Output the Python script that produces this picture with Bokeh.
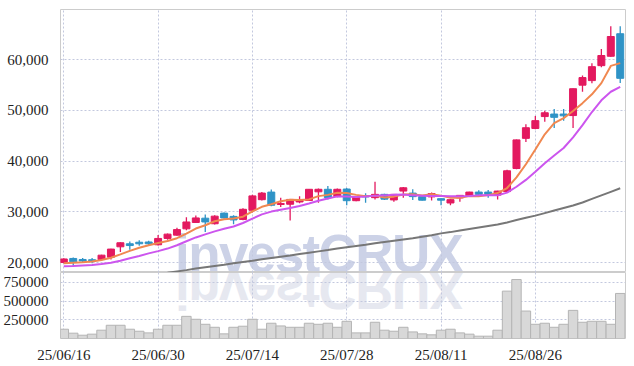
from bokeh.plotting import figure
from bokeh.layouts import column
from bokeh.models import ColumnDataSource, FixedTicker, NumeralTickFormatter, Range1d, Div, Grid
from bokeh.embed import file_html
from bokeh.resources import INLINE

# ---------------- data ----------------
dates = ["25/06/16", "25/06/17", "25/06/18", "25/06/19", "25/06/20",
         "25/06/23", "25/06/24", "25/06/25", "25/06/26", "25/06/27",
         "25/06/30", "25/07/01", "25/07/02", "25/07/03", "25/07/04",
         "25/07/07", "25/07/08", "25/07/09", "25/07/10", "25/07/11",
         "25/07/14", "25/07/15", "25/07/16", "25/07/17", "25/07/18",
         "25/07/21", "25/07/22", "25/07/23", "25/07/24", "25/07/25",
         "25/07/28", "25/07/29", "25/07/30", "25/07/31", "25/08/01",
         "25/08/04", "25/08/05", "25/08/06", "25/08/07", "25/08/08",
         "25/08/11", "25/08/12", "25/08/13", "25/08/14", "25/08/18",
         "25/08/19", "25/08/20", "25/08/21", "25/08/22", "25/08/25",
         "25/08/26", "25/08/27", "25/08/28", "25/08/29", "25/09/01",
         "25/09/02", "25/09/03", "25/09/04", "25/09/05", "25/09/08"]

opens = [20000, 20800, 20600, 20550, 20600, 21050, 23100, 23700, 24000, 24050,
         23500, 24750, 25400, 26650, 27900, 28750, 27650, 29750, 29100, 28500,
         30300, 32400, 33900, 31450, 31500, 31950, 32250, 33950, 34450, 33000,
         34500, 32200, 33200, 32800, 33450, 32350, 34100, 33700, 33000, 32950,
         32600, 31750, 32750, 33150, 33900, 33900, 33300, 34000, 38550, 44500,
         46450, 48800, 49300, 49300, 49000, 55000, 55900, 58850, 60700, 65150]
highs = [20850, 21000, 20900, 20900, 21550, 22700, 24000, 24150, 24400, 24300,
         25450, 25750, 26850, 28950, 29300, 29500, 29350, 29850, 29350, 30700,
         33350, 33900, 34400, 32800, 32500, 33100, 34500, 34600, 35100, 34600,
         34700, 33100, 33650, 35950, 33550, 33500, 34900, 34450, 33100, 33800,
         32650, 32500, 33300, 33950, 34250, 34300, 34150, 38300, 44300, 47300,
         48900, 49950, 50300, 50300, 54350, 56900, 59300, 62150, 66600, 66600]
lows = [19850, 19300, 20050, 19850, 20400, 20600, 22100, 22500, 23300, 23350,
        23350, 24500, 25300, 26350, 27800, 26000, 27500, 28700, 27550, 28350,
        29850, 32250, 31100, 30950, 28300, 31700, 32150, 31800, 32450, 32900,
        31300, 32100, 31800, 32450, 32350, 32000, 32800, 32350, 32250, 32250,
        31300, 31300, 32000, 33100, 33000, 32800, 32450, 33900, 38400, 43800,
        46300, 47800, 46550, 48000, 46550, 53700, 55400, 58550, 60600, 55450]
closes = [20700, 20150, 20300, 20350, 21450, 22650, 23900, 23350, 23700, 23700,
          24750, 25600, 26500, 28000, 28800, 28000, 29150, 28800, 28400, 30500,
          33150, 33700, 31300, 31650, 32450, 32250, 34450, 34450, 32800, 34450,
          32200, 33000, 32950, 33450, 32500, 33450, 34750, 33000, 32300, 33600,
          32300, 32400, 33250, 33900, 33450, 33450, 34100, 38100, 44200, 46600,
          48000, 49550, 48650, 48950, 54300, 56500, 58650, 60850, 64600, 56350]

ma_short = [19850, 19950, 20050, 20200, 20500, 20950, 21600, 22300, 22900, 23400,
            23850, 24250, 24800, 25700, 26700, 27350, 28150, 28550, 28700, 29050,
            30100, 31000, 31500, 32100, 32400, 32350, 32450, 33100, 33350, 33750,
            33700, 33350, 33100, 33200, 32850, 33000, 33400, 33450, 33250, 33450,
            33200, 32800, 32800, 33100, 33100, 33300, 33700, 34700, 36800, 39400,
            42300, 45300, 47500, 48500, 49900, 51450, 53200, 55400, 58800, 59350]
ma_mid = [19250, 19300, 19400, 19500, 19700, 19950, 20350, 20850, 21300, 21800,
          22250, 22750, 23400, 24200, 24950, 25550, 26150, 26650, 27100, 27800,
          28650, 29500, 30050, 30400, 30750, 31150, 31650, 32200, 32650, 33050,
          33050, 32950, 33050, 33200, 33250, 33350, 33400, 33250, 33200, 33150,
          33150, 33100, 33100, 33150, 33250, 33250, 33250, 33800, 34950, 36300,
          37900, 39600, 41100, 42600, 44700, 47100, 49700, 52000, 53700, 54650]
nan = float("nan")
ma_long = [nan, nan, nan, nan, nan, nan, nan, nan, nan, nan,
           nan, 18000, 18250, 18500, 18800, 19050, 19300, 19550, 19850, 20100,
           20350, 20650, 20900, 21150, 21400, 21700, 21950, 22200, 22450, 22750,
           23000, 23250, 23500, 23800, 24050, 24300, 24550, 24800, 25100, 25400,
           25750, 26000, 26300, 26600, 26900, 27200, 27500, 27900, 28400, 28850,
           29250, 29750, 30250, 30750, 31250, 31850, 32550, 33250, 33950, 34650]

volumes = [124000, 71000, 44000, 58000, 111000, 177000, 177000, 124000, 97000, 75000,
           124000, 177000, 177000, 296000, 257000, 190000, 150000, 62000, 150000, 164000,
           257000, 124000, 204000, 168000, 150000, 150000, 204000, 190000, 204000, 150000,
           230000, 75000, 75000, 217000, 111000, 97000, 150000, 88000, 62000, 49000,
           111000, 124000, 75000, 58000, 31000, 31000, 111000, 633000, 788000, 367000,
           190000, 204000, 150000, 190000, 376000, 217000, 230000, 230000, 190000, 602000]

price_ticks = [20000, 30000, 40000, 50000, 60000]
volume_ticks = [250000, 500000, 750000]
date_tick_idx = [0, 10, 20, 30, 40, 50]
watermark = "investCRUX"

# ---------------- styling ----------------
UP = "#e3195f"
DOWN = "#2f93c6"
GRID = "#c3c8de"
FONT = "Liberation Sans Narrow"

idx = list(range(len(dates)))
colors = [UP if c >= o else DOWN for o, c in zip(opens, closes)]
src = ColumnDataSource(dict(
    x=idx, open=opens, high=highs, low=lows, close=closes,
    top=[max(o, c) for o, c in zip(opens, closes)],
    bottom=[min(o, c) for o, c in zip(opens, closes)],
    color=colors, ma_s=ma_short, ma_m=ma_mid, ma_l=ma_long, vol=volumes,
))

x_range = Range1d(-0.35, 59.56)


def style_yaxis(fig, ticks, fmt):
    ax = fig.yaxis[0]
    ax.ticker = FixedTicker(ticks=ticks)
    ax.formatter = NumeralTickFormatter(format=fmt)
    ax.axis_line_color = None
    ax.major_tick_line_color = None
    ax.minor_tick_line_color = None
    ax.major_label_standoff = 6
    ax.major_label_text_font = FONT
    ax.major_label_text_font_size = "15px"
    ax.major_label_text_color = "#222222"
    fig.ygrid.grid_line_color = GRID
    fig.ygrid.grid_line_dash = "2 2"
    fig.ygrid.grid_line_width = 1
    fig.ygrid.ticker = FixedTicker(ticks=ticks)


# ---------------- price panel ----------------
p = figure(width=626, height=272, x_range=x_range, y_range=Range1d(18030, 69930),
           output_backend="svg", toolbar_location=None, x_axis_location=None,
           min_border_left=60, min_border_right=1, min_border_top=9, min_border_bottom=0)
p.outline_line_color = "#cccccc"
p.background_fill_alpha = 0
p.border_fill_alpha = 0
style_yaxis(p, price_ticks, "0,0")
for g in list(p.xgrid):
    g.visible = False
p.add_layout(Grid(dimension=0, ticker=FixedTicker(ticks=date_tick_idx),
                  grid_line_color=GRID, grid_line_dash="2 2", grid_line_width=1))

p.segment(x0="x", y0="low", x1="x", y1="high", source=src, line_color="color", line_width=1.3)
p.vbar(x="x", width=0.74, top="top", bottom="bottom", source=src,
       fill_color="color", line_color="color", line_width=1)

p.line("x", "ma_l", source=src, line_color="#777777", line_width=2)
p.line("x", "ma_s", source=src, line_color="#f08850", line_width=2)
p.line("x", "ma_m", source=src, line_color="#cc55ee", line_width=2)

# ---------------- volume panel ----------------
v = figure(width=626, height=94, x_range=x_range, y_range=Range1d(0, 882000),
           output_backend="svg", toolbar_location=None,
           min_border_left=60, min_border_right=1, min_border_top=0, min_border_bottom=28)
v.outline_line_color = "#cccccc"
v.background_fill_alpha = 0
v.border_fill_alpha = 0
style_yaxis(v, volume_ticks, "0")
xa = v.xaxis[0]
xa.ticker = FixedTicker(ticks=date_tick_idx)
xa.major_label_overrides = {i: dates[i] for i in date_tick_idx}
xa.axis_line_color = None
xa.major_tick_line_color = None
xa.minor_tick_line_color = None
xa.major_label_standoff = 2
xa.major_label_text_font = FONT
xa.major_label_text_font_size = "15px"
xa.major_label_text_color = "#222222"
v.xgrid.ticker = FixedTicker(ticks=date_tick_idx)
v.xgrid.grid_line_color = GRID
v.xgrid.grid_line_dash = "2 2"

v.vbar(x="x", width=1.0, top="vol", bottom=0, source=src,
       fill_color="#d8d8d8", line_color="#b4b4b4", line_width=1)

layout = column(p, v, spacing=0)

# watermark and its mirrored reflection, drawn behind the (transparent) panels
TXT = ('font-family="Roboto" font-weight="900" font-size="53" '
       'style="letter-spacing:-1.6px"')
mark_svg = (
    '<svg xmlns="http://www.w3.org/2000/svg" width="300" height="90" style="overflow:visible">'
    '<text x="0" y="42" ' + TXT + ' fill="#ccd2e7">' + watermark + '</text>'
    '<text x="0" y="-42" transform="scale(1,-1)" ' + TXT + ' fill="#e6e8f0">'
    + watermark + '</text>'
    '</svg>'
)
mark = Div(text=mark_svg, width=300, height=90, margin=0,
           styles={"position": "absolute", "left": "175px", "top": "230px", "z-index": "-1"})

open("out.html", "w").write(file_html([layout, mark], INLINE))
